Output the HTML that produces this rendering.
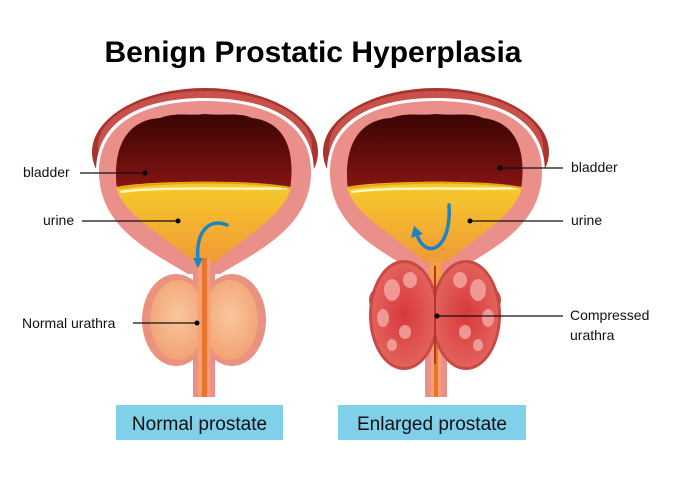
<!DOCTYPE html>
<html><head><meta charset="utf-8"><style>
html,body{margin:0;padding:0;background:#fff;}
svg{display:block;}
text{font-family:"Liberation Sans",sans-serif;}
</style></head><body>
<svg width="673" height="478" viewBox="0 0 673 478" xmlns="http://www.w3.org/2000/svg">
<defs>
<linearGradient id="cav" x1="0" y1="0" x2="0" y2="1"><stop offset="0" stop-color="#3a0404"/><stop offset="1" stop-color="#861514"/></linearGradient>
<linearGradient id="uri" x1="0" y1="0" x2="0" y2="1"><stop offset="0" stop-color="#f6cc2c"/><stop offset="1" stop-color="#f09a35"/></linearGradient>
<radialGradient id="lob" cx="0.5" cy="0.45" r="0.6"><stop offset="0" stop-color="#fbc7a0"/><stop offset="1" stop-color="#f0a070"/></radialGradient>
<radialGradient id="enl" cx="0.5" cy="0.5" r="0.6"><stop offset="0" stop-color="#d8383a"/><stop offset="1" stop-color="#e56a62"/></radialGradient>
<g id="bl">
  <ellipse cx="205" cy="152" rx="113" ry="64" fill="#a8332f"/>
  <ellipse cx="205" cy="146" rx="107" ry="55" fill="#c8524b"/>
  <path d="M186,274 C150,252 96,228 96,172 C96,118 145,98 205,98 C265,98 314,118 314,172 C314,228 258,252 222,274 Z" fill="#fff"/>
  <path d="M188,274 C152,252 99,228 99,172 C99,121 147,101 205,101 C263,101 311,121 311,172 C311,228 256,252 220,274 Z" fill="#eb8f8a"/>
  <path d="M117,190 C112,150 125,120 160,118 C175,112 190,116 205,114 C222,116 240,112 252,118 C285,122 296,150 290,190 Z" fill="url(#cav)"/>
  <path d="M116,187 C150,180 255,180 291,187 C286,214 246,236 216,262 L194,262 C164,236 122,214 116,187 Z" fill="url(#uri)"/>
  <path d="M120,192 C160,186 250,190 288,188" stroke="#fff6c0" stroke-width="2.5" fill="none"/>
  <path d="M118,188 C160,182 250,180 290,188" stroke="#e6a50f" stroke-width="2" fill="none"/>
</g>
</defs>

<text x="313" y="62" font-size="30" font-weight="bold" text-anchor="middle" textLength="417" lengthAdjust="spacingAndGlyphs" fill="#000">Benign Prostatic Hyperplasia</text>

<!-- LEFT -->
<rect x="193" y="255" width="22" height="142" fill="#eb8f8a"/>
<ellipse cx="176" cy="320" rx="34" ry="46" fill="#ea9180"/>
<ellipse cx="232" cy="320" rx="34" ry="46" fill="#ea9180"/>
<ellipse cx="178" cy="320" rx="28" ry="40" fill="url(#lob)"/>
<ellipse cx="230" cy="320" rx="28" ry="40" fill="url(#lob)"/>
<use href="#bl"/>
<rect x="198" y="258" width="12" height="139" fill="#f5a070"/>
<rect x="202" y="258" width="5" height="139" fill="#e8742e"/>
<path d="M227,225 C210,218 195,230 198,262" stroke="#1d83c4" stroke-width="3.5" fill="none" stroke-linecap="round"/>
<path d="M193,258 L198,268 L203,258 Z" fill="#1d83c4"/>

<!-- RIGHT -->
<rect x="425" y="255" width="22" height="142" fill="#eb8f8a"/>
<rect x="431" y="258" width="10" height="139" fill="#f5a070"/>
<rect x="434" y="258" width="4" height="139" fill="#e8742e"/>
<g transform="translate(231,0)"><use href="#bl"/></g>
<rect x="430" y="258" width="12" height="40" fill="#f3a040"/>
<path d="M449,205 C452,250 425,262 416,232" stroke="#1d83c4" stroke-width="3.5" fill="none" stroke-linecap="round"/>
<path d="M411,238 L414,226 L423,234 Z" fill="#1d83c4"/>
<g>
  <ellipse cx="404" cy="315" rx="35" ry="55" fill="#c94a45"/>
  <ellipse cx="466" cy="315" rx="35" ry="55" fill="#c94a45"/>
  <circle cx="383" cy="300" r="14" fill="#c94a45"/><circle cx="487" cy="300" r="14" fill="#c94a45"/>
  <ellipse cx="404" cy="315" rx="32" ry="52" fill="url(#enl)"/>
  <ellipse cx="466" cy="315" rx="32" ry="52" fill="url(#enl)"/>
  <g fill="#f4a5a0" opacity="0.85">
    <ellipse cx="392" cy="290" rx="8" ry="11"/><ellipse cx="410" cy="280" rx="7" ry="8"/>
    <ellipse cx="383" cy="318" rx="6" ry="9"/><ellipse cx="405" cy="332" rx="6" ry="7"/>
    <ellipse cx="478" cy="290" rx="8" ry="11"/><ellipse cx="460" cy="280" rx="7" ry="8"/>
    <ellipse cx="488" cy="318" rx="6" ry="9"/><ellipse cx="465" cy="332" rx="6" ry="7"/>
    <ellipse cx="392" cy="345" rx="5" ry="6"/><ellipse cx="478" cy="345" rx="5" ry="6"/>
  </g>
  <path d="M435,266 L435,364" stroke="#b83030" stroke-width="2"/>
</g>

<!-- leaders -->
<g stroke="#111" stroke-width="1.2">
  <line x1="80" y1="173" x2="145" y2="173"/>
  <line x1="82" y1="221" x2="178" y2="221"/>
  <line x1="133" y1="323" x2="197" y2="323"/>
  <line x1="500" y1="168" x2="563" y2="168"/>
  <line x1="470" y1="221" x2="563" y2="221"/>
  <line x1="437" y1="316" x2="563" y2="316"/>
</g>
<g fill="#000">
  <circle cx="145" cy="173" r="2.5"/><circle cx="178" cy="221" r="2.5"/><circle cx="197" cy="323" r="2.5"/>
  <circle cx="500" cy="168" r="2.5"/><circle cx="470" cy="221" r="2.5"/><circle cx="437" cy="316" r="2.5"/>
</g>
<g font-size="14" fill="#111">
  <text x="23" y="177">bladder</text>
  <text x="43" y="225">urine</text>
  <text x="22" y="328">Normal urathra</text>
  <text x="571" y="172">bladder</text>
  <text x="571" y="225">urine</text>
  <text x="570" y="320">Compressed</text>
  <text x="570" y="340">urathra</text>
</g>

<rect x="116" y="405" width="167" height="35" fill="#80d0ea"/>
<rect x="338" y="405" width="188" height="35" fill="#80d0ea"/>
<text x="199.5" y="430" font-size="19" text-anchor="middle" fill="#111">Normal prostate</text>
<text x="432" y="430" font-size="19" text-anchor="middle" fill="#111">Enlarged prostate</text>
</svg>
</body></html>
